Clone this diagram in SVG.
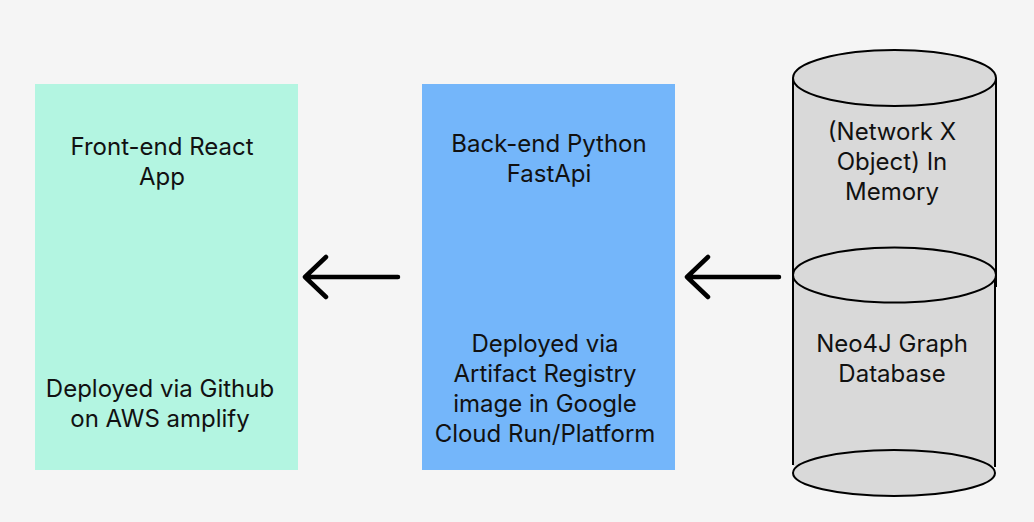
<svg xmlns="http://www.w3.org/2000/svg" width="1034" height="522" viewBox="0 0 1034 522">
<style>
text{font-family:Inter,"Noto Sans","Liberation Sans",sans-serif;font-size:24px;font-weight:400;fill:#111;text-anchor:middle}
.cyl{fill:#D9D9D9;stroke:#000;stroke-width:2}
.arr{fill:none;stroke:#000;stroke-width:4.5;stroke-linecap:round;stroke-linejoin:round}
</style>
<rect x="0" y="0" width="1034" height="522" fill="#F5F5F5"/>
<g id="frontend">
<rect x="35" y="84" width="263" height="386" fill="#B3F5E1"/>
<text x="162" y="155">Front-end React</text>
<text x="162" y="185">App</text>
<text x="160" y="397">Deployed via Github</text>
<text x="160" y="427">on AWS amplify</text>
</g>
<g id="backend">
<rect x="422" y="84" width="253" height="386" fill="#74B6FA"/>
<text x="549" y="152">Back-end Python</text>
<text x="549" y="182">FastApi</text>
<text x="545" y="352">Deployed via</text>
<text x="545" y="382">Artifact Registry</text>
<text x="545" y="412">image in Google</text>
<text x="545" y="442">Cloud Run/Platform</text>
</g>
<g id="networkx">
<path d="M793,78 L793,277 L996,287 L996,78 Z" fill="#D9D9D9"/>
<line x1="793" y1="78" x2="793" y2="277" stroke="#000" stroke-width="2"/>
<line x1="996" y1="78" x2="996" y2="287" stroke="#000" stroke-width="2"/>
<ellipse class="cyl" cx="894.5" cy="78" rx="101.5" ry="28"/>
<text x="892" y="140">(Network X</text>
<text x="892" y="170">Object) In</text>
<text x="892" y="200">Memory</text>
</g>
<g id="neo4j">
<rect x="793" y="275" width="202" height="191" fill="#D9D9D9"/>
<line x1="793" y1="275" x2="793" y2="465" stroke="#000" stroke-width="2"/>
<line x1="995" y1="275" x2="995" y2="467" stroke="#000" stroke-width="2"/>
<ellipse class="cyl" cx="894" cy="473" rx="101" ry="23"/>
<ellipse class="cyl" cx="894.5" cy="275" rx="101.5" ry="27.5"/>
<text x="892" y="352">Neo4J Graph</text>
<text x="892" y="382">Database</text>
</g>
<g id="connectors">
<path class="arr" d="M398,277 L305,277 M326,257 L305,277 L326,297"/>
<path class="arr" d="M779,277 L687,277 M708,257 L687,277 L708,297"/>
</g>
</svg>
